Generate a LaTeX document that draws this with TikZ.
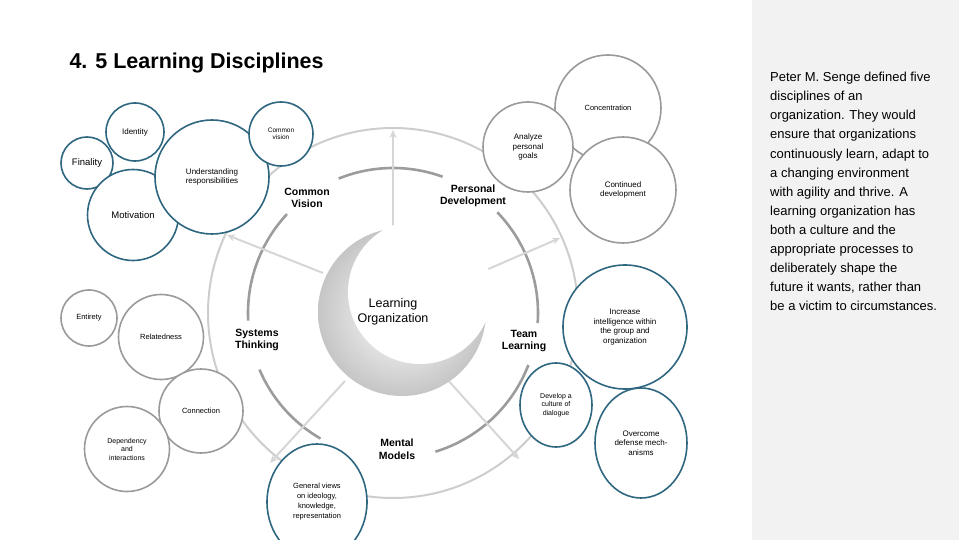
\documentclass[tikz,border=0pt]{standalone}
\usepackage{fontspec}
\setmainfont{Liberation Sans}
\usetikzlibrary{arrows.meta,shapes.geometric}
\definecolor{bblue}{HTML}{2F6680}
\definecolor{bgray}{HTML}{9A9A9A}
\definecolor{arcg}{HTML}{9C9C9C}
\definecolor{outg}{HTML}{CDCDCD}
\definecolor{arrg}{HTML}{D6D6D6}
\definecolor{panel}{HTML}{F2F2F2}
\begin{document}
\begin{tikzpicture}[x=1pt,y=1pt,
  bb/.style={circle,draw=bblue,line width=1.6pt,fill=white,align=center,inner sep=0pt,font=\fontsize{8}{9.5}\selectfont},
  gb/.style={circle,draw=bgray,line width=1.6pt,fill=white,align=center,inner sep=0pt,font=\fontsize{8}{9.5}\selectfont},
  disc/.style={align=center,font=\bfseries\fontsize{10.5}{12.5}\selectfont},
  inarc/.style={draw=arcg,line width=2.6pt},
  spoke/.style={draw=arrg,line width=2pt,-{Stealth[length=8pt,width=7pt]}}]
\useasboundingbox (0,0) rectangle (959,-540);
\fill[panel] (752,0) rectangle (959,-540);
\node[anchor=west,font=\bfseries\fontsize{21.5}{25}\selectfont] (title) at (66,-63) {4. 5 Learning Disciplines};
\coordinate (C) at (393,-313);
\draw[outg,line width=2pt] (C) circle[radius=185pt];
% inner arcs
\draw[inarc] (C) ++(70:145pt) arc[start angle=70,end angle=112,radius=145pt];
\draw[inarc] (C) ++(137:145pt) arc[start angle=137,end angle=183,radius=145pt];
\draw[inarc] (C) ++(203:145pt) arc[start angle=203,end angle=240,radius=145pt];
\draw[inarc] (C) ++(287:145pt) arc[start angle=287,end angle=339,radius=145pt];
\draw[inarc] (C) ++(-4:145pt) arc[start angle=-4,end angle=44,radius=145pt];
% spokes
\coordinate (s1a) at (393,-265); \coordinate (s1b) at (393,-130);
\coordinate (s2a) at (323,-273); \coordinate (s2b) at (227,-235);
\coordinate (s3a) at (463,-280); \coordinate (s3b) at (560,-238);
\coordinate (s4a) at (345,-381); \coordinate (s4b) at (270,-463);
\coordinate (s5a) at (446,-378); \coordinate (s5b) at (519,-459);
\draw[spoke] (s1a) -- (s1b);
\draw[spoke] (s2a) -- (s2b);
\draw[spoke] (s3a) -- (s3b);
\draw[spoke] (s4a) -- (s4b);
\draw[spoke] (s5a) -- (s5b);
% centre
\fill[white] (402,-312) circle[radius=84pt];
\shade[inner color=white,outer color=gray!45] (402,-312) circle[radius=84pt];
\fill[white] (420,-292) circle[radius=72pt];
\node[align=center,font=\fontsize{12.5}{15.5}\selectfont] (lo) at (393,-312) {Learning\\Organization};
\node[disc] (cv) at (307,-198) {Common\\Vision};
\node[disc] (pd) at (473,-196) {Personal\\Development};
\node[disc] (st) at (257,-340) {Systems\\Thinking};
\node[disc] (tl) at (524,-341) {Team\\Learning};
\node[disc] (mm) at (397,-449) {Mental\\Models};
% blue bubbles top-left
\node[bb,minimum size=58pt] (id) at (135,-132) {Identity};
\node[bb,minimum size=52pt,font=\fontsize{9.5}{11}\selectfont] (fin) at (87,-163) {Finality};
\node[bb,minimum size=91pt,font=\fontsize{9.5}{11}\selectfont] (mot) at (133,-215) {Motivation};
\node[bb,minimum size=114pt] (und) at (212,-177) {Understanding\\responsibilities};
\node[bb,minimum size=64pt,font=\fontsize{6.5}{7.5}\selectfont] (cvs) at (281,-134) {Common\\vision};
% gray left
\node[gb,minimum size=56pt,font=\fontsize{7.5}{9}\selectfont] (ent) at (89,-318) {Entirety};
\node[gb,minimum size=85pt,font=\fontsize{7.5}{9}\selectfont] (rel) at (161,-337) {Relatedness};
\node[gb,minimum size=84pt,font=\fontsize{7.5}{9}\selectfont] (con) at (201,-411) {Connection};
\node[gb,minimum size=85pt,font=\fontsize{7}{8.5}\selectfont] (dep) at (127,-449) {Dependency\\and\\interactions};
% gray top-right
\node[gb,minimum size=106pt,font=\fontsize{7.5}{9}\selectfont] (conc) at (608,-108) {Concentration};
\node[gb,minimum size=90pt] (an) at (528,-147) {Analyze\\personal\\goals};
\node[gb,minimum size=106pt] (cd) at (623,-190) {Continued\\development};
% blue right/bottom
\node[bb,minimum size=124pt] (inc) at (625,-327) {Increase\\intelligence within\\the group and\\organization};
\node[bb,ellipse,minimum width=92pt,minimum height=110pt] (ov) at (641,-443) {Overcome\\defense mech-\\anisms};
\node[bb,ellipse,minimum width=72pt,minimum height=84pt,font=\fontsize{7}{8.5}\selectfont] (dev) at (556,-405) {Develop a\\culture of\\dialogue};
\node[bb,ellipse,minimum width=100pt,minimum height=116pt,font=\fontsize{7.5}{10}\selectfont] (gv) at (317,-502) {General views\\on ideology,\\knowledge,\\representation};
% side text
\node[anchor=north west,align=left,inner sep=0pt,font=\fontsize{13}{19.1}\selectfont] (side) at (770,-72)
{Peter M. Senge defined five\\disciplines of an\\organization. They would\\ensure that organizations\\continuously learn, adapt to\\a changing environment\\with agility and thrive. A\\learning organization has\\both a culture and the\\appropriate processes to\\deliberately shape the\\future it wants, rather than\\be a victim to circumstances.};
\end{tikzpicture}
\end{document}
